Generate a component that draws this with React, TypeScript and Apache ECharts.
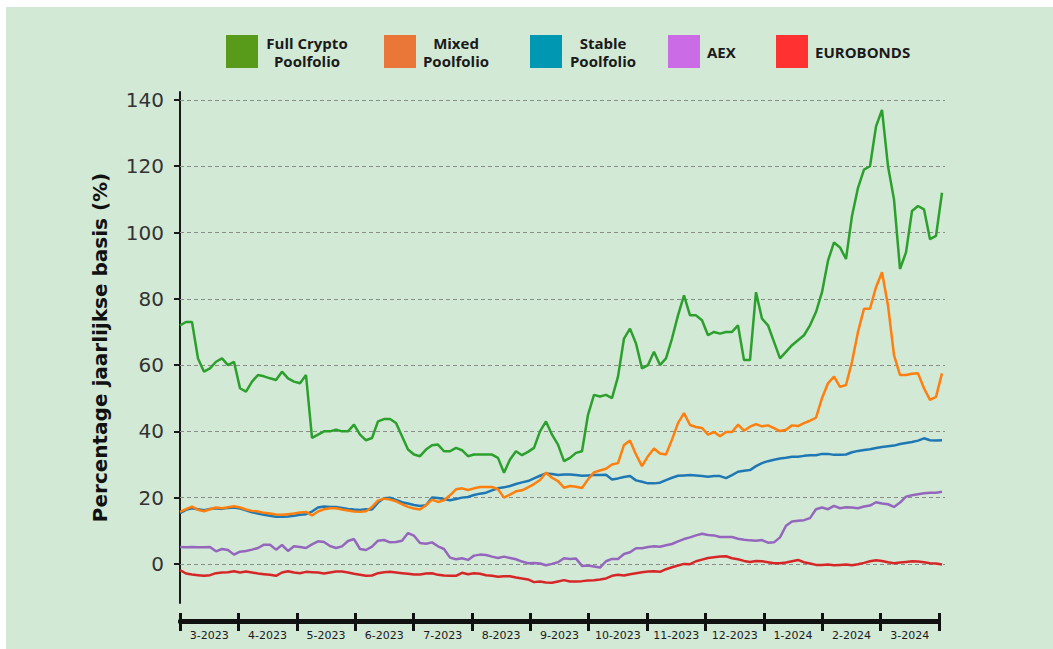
import React, { useEffect, useRef } from 'react';
import * as echarts from 'echarts';

const months = ['3-2023', '4-2023', '5-2023', '6-2023', '7-2023', '8-2023', '9-2023', '10-2023', '11-2023', '12-2023', '1-2024', '2-2024', '3-2024'];
const yTicks = [0, 20, 40, 60, 80, 100, 120, 140];

const fullCrypto = [
  72, 73, 73, 62, 58, 59, 61, 62, 60, 61, 53, 52, 55, 57, 56.6, 56, 55.5, 58, 56, 55, 54.5, 57, 38, 39, 40, 40, 40.5, 40, 40, 42, 39, 37.3,
  38, 43, 43.7, 43.7, 42.5, 38.5, 34.5, 33, 32.5, 34.5, 35.8, 36, 34, 34, 35, 34.3, 32.5, 33, 33, 33, 33, 32, 27.5, 31.5, 34, 32.8, 33.8, 35, 40, 43, 39, 36,
  31, 32, 33.5, 34, 45, 51, 50.5, 51, 50, 56.5, 68, 71, 66.5, 59, 60, 64, 60, 62, 68, 75, 81, 75, 75, 73.5, 69, 70, 69.5, 70, 70, 72, 61.5, 61.5,
  82, 74, 72, 67, 62, 64, 66, 67.5, 69, 72, 76, 82, 91.5, 97, 95.5, 92, 105, 113.5, 119, 120, 132, 137, 120, 110, 89, 94, 106.5, 108, 107, 98, 99, 112,
];
const mixed = [
  15.7, 16.5, 17.3, 16.3, 15.9, 16.5, 17, 16.8, 17.1, 17.4, 17, 16.4, 16, 15.8, 15.4, 15.2, 14.9, 14.8, 15, 15.2, 15.5, 15.7, 14.6, 15.8, 16.5, 16.8, 16.8, 16.4, 16.1, 15.8, 15.7, 15.9,
  17.2, 19.1, 19.7, 19.4, 18.9, 18, 17.2, 16.7, 16.4, 17.7, 19.4, 18.7, 19.2, 20.7, 22.5, 22.8, 22.3, 22.8, 23.2, 23.2, 23.2, 22.5, 20, 20.9, 21.9, 22.2, 23.1, 24.1, 25.3, 27.5, 26, 25,
  23, 23.5, 23.3, 22.9, 25.5, 27.6, 28.2, 28.7, 30, 30.4, 35.9, 37.2, 33, 29.5, 32.5, 34.8, 33.3, 33, 37.5, 42.5, 45.5, 41.9, 41.3, 41, 39, 39.8, 38.5, 39.8, 39.8, 42, 40.2, 41.4,
  42.2, 41.5, 41.8, 41, 40.1, 40.5, 41.8, 41.6, 42.5, 43.2, 44.1, 50, 54.5, 56.5, 53.4, 54, 61, 70, 77, 77, 83.5, 88, 78, 63, 57, 57, 57.4, 57.5, 53, 49.5, 50.4, 57.5,
];
const stable = [
  15.3, 16.3, 16.8, 16.5, 16.2, 16.6, 16.8, 16.6, 16.9, 17, 16.7, 16.2, 15.6, 15.2, 14.8, 14.5, 14.2, 14.2, 14.3, 14.5, 14.8, 15, 15.8, 17, 17.3, 17.2, 17.2, 16.9, 16.6, 16.4, 16.3, 16.5,
  16.4, 18.5, 19.8, 20, 19.3, 18.6, 18.2, 17.8, 17.5, 17.7, 20, 19.9, 19.6, 19.2, 19.6, 20, 20.2, 20.8, 21.2, 21.5, 22.2, 22.8, 23.1, 23.5, 24.1, 24.6, 25, 25.8, 26.6, 27.3, 27.1, 26.8,
  27, 27, 26.8, 26.6, 26.7, 26.8, 26.8, 26.9, 25.5, 25.8, 26.2, 26.5, 25.2, 24.8, 24.3, 24.3, 24.5, 25.3, 26, 26.6, 26.7, 26.8, 26.7, 26.5, 26.3, 26.5, 26.5, 25.9, 26.8, 27.8, 28.1, 28.3,
  29.5, 30.4, 31, 31.4, 31.8, 32, 32.3, 32.3, 32.6, 32.8, 32.8, 33.2, 33.2, 32.9, 32.9, 33, 33.7, 34.1, 34.4, 34.6, 35, 35.3, 35.5, 35.7, 36.2, 36.5, 36.8, 37.2, 37.9, 37.3, 37.2, 37.3,
];
const aex = [
  5.1, 5, 5.1, 5, 5, 5.1, 3.8, 4.5, 4.2, 2.8, 3.7, 3.9, 4.3, 4.8, 5.8, 5.8, 4.3, 5.7, 3.9, 5.3, 5.1, 4.8, 5.9, 6.8, 6.6, 5.4, 4.8, 5.3, 6.9, 7.5, 4.5, 4.2,
  5.2, 7, 7.2, 6.5, 6.6, 7, 9.3, 8.5, 6.3, 6.1, 6.5, 5.3, 4.5, 1.9, 1.4, 1.7, 1.2, 2.5, 2.8, 2.7, 2.2, 1.8, 2.2, 1.8, 1.4, 0.7, 0.2, 0.3, 0.1, -0.4, 0, 0.5,
  1.7, 1.5, 1.6, -0.6, -0.5, -0.8, -1.1, 0.8, 1.5, 1.5, 3, 3.5, 4.7, 4.7, 5.1, 5.3, 5.2, 5.6, 6, 6.8, 7.5, 8, 8.6, 9.1, 8.7, 8.6, 8.1, 8.1, 8.1, 7.6, 7.3, 7.1,
  7, 7.2, 6.4, 6.5, 8, 11.5, 12.8, 13, 13.2, 13.8, 16.5, 17, 16.5, 17.5, 16.8, 17.1, 17, 16.8, 17.3, 17.6, 18.6, 18.2, 18, 17.2, 18.5, 20.3, 20.7, 21, 21.3, 21.5, 21.5, 21.8,
];
const eurobonds = [
  -1.9, -2.9, -3.2, -3.4, -3.6, -3.4, -2.8, -2.6, -2.5, -2.2, -2.6, -2.3, -2.6, -2.9, -3.1, -3.3, -3.6, -2.6, -2.2, -2.6, -2.8, -2.4, -2.5, -2.6, -2.9, -2.6, -2.3, -2.3, -2.6, -3, -3.3, -3.6,
  -3.5, -2.8, -2.5, -2.4, -2.6, -2.8, -3, -3.2, -3.2, -2.9, -2.8, -3.3, -3.5, -3.6, -3.6, -2.7, -3.1, -2.8, -3, -3.4, -3.6, -3.9, -3.7, -3.7, -4.1, -4.4, -4.7, -5.5, -5.3, -5.6, -5.7, -5.3,
  -4.9, -5.3, -5.3, -5.2, -5.0, -4.9, -4.7, -4.4, -3.6, -3.3, -3.5, -3.1, -2.8, -2.5, -2.3, -2.2, -2.4, -1.6, -1, -0.5, 0, -0.1, 0.8, 1.3, 1.8, 2, 2.2, 2.3, 1.7, 1.4, 0.9, 0.6,
  0.9, 0.8, 0.5, 0.2, 0.2, 0.4, 0.8, 1.2, 0.5, 0.1, -0.3, -0.3, -0.2, -0.4, -0.3, -0.2, -0.4, -0.1, 0.3, 0.8, 1.1, 0.9, 0.5, 0.2, 0.4, 0.6, 0.8, 0.7, 0.5, 0.2, 0.1, -0.2,
];

const seriesDefs = [
  { name: 'Full Crypto Poolfolio', data: fullCrypto, color: '#2ca02c' },
  { name: 'Stable Poolfolio', data: stable, color: '#1f77b4' },
  { name: 'Mixed Poolfolio', data: mixed, color: '#ff7f0e' },
  { name: 'AEX', data: aex, color: '#9467bd' },
  { name: 'EUROBONDS', data: eurobonds, color: '#d62728' },
];

const legendItems = [
  { label: 'Full Crypto\nPoolfolio', color: '#589b1b', x: 220, tx: 301, align: 'center' },
  { label: 'Mixed\nPoolfolio', color: '#ea7637', x: 378, tx: 450, align: 'center' },
  { label: 'Stable\nPoolfolio', color: '#0097b2', x: 524, tx: 597, align: 'center' },
  { label: 'AEX', color: '#cb6ce6', x: 662, tx: 701, align: 'left' },
  { label: 'EUROBONDS', color: '#ff3131', x: 770, tx: 809, align: 'left' },
];

export default function App() {
  const ref = useRef<HTMLDivElement>(null);
  useEffect(() => {
    document.body.style.margin = '0';
    const chart = echarts.init(ref.current as HTMLDivElement, null, { renderer: 'svg' });
    const n = fullCrypto.length;
    const graphic: any[] = [];
    legendItems.forEach((it) => {
      graphic.push({ type: 'rect', shape: { x: it.x, y: 28, width: 32, height: 33 }, style: { fill: it.color } });
      graphic.push({
        type: 'text', x: it.tx, y: 45,
        style: { text: it.label, fontFamily: '"Open Sans"', fontWeight: 'bold', fontSize: 15, lineHeight: 18, fill: '#1a1a1a', align: it.align, verticalAlign: 'middle' },
      });
    });
    const option: any = {
      animation: false,
      backgroundColor: '#d2e9d6',
      graphic,
      grid: [
        { left: 174, right: 108, top: 85, bottom: 46, containLabel: false },
        { left: 174, width: 759, top: 614, height: 1, containLabel: false },
      ],
      xAxis: [
        { type: 'value', gridIndex: 0, min: 0, max: n - 0.5, show: false },
        {
          type: 'category', gridIndex: 1, position: 'bottom', data: months, boundaryGap: true,
          axisLine: { show: true, lineStyle: { color: '#111', width: 4 } },
          axisTick: { show: true, interval: 0, length: 9, lineStyle: { color: '#111', width: 3 } },
          axisLabel: { show: true, interval: 0, margin: 8, color: '#1a1a1a', fontSize: 11, fontFamily: '"DejaVu Sans"' },
        },
        {
          type: 'category', gridIndex: 1, position: 'top', data: months, boundaryGap: true,
          axisLine: { show: true, lineStyle: { color: '#111', width: 4 } },
          axisTick: { show: true, interval: 0, length: 8, lineStyle: { color: '#111', width: 3 } },
          axisLabel: { show: false },
        },
      ],
      yAxis: [
        {
          type: 'value', gridIndex: 0, min: -11.8, max: 142.4,
          name: 'Percentage jaarlijkse basis (%)', nameLocation: 'middle', nameGap: 70,
          nameTextStyle: { fontFamily: '"DejaVu Sans"', fontWeight: 'bold', fontSize: 20, color: '#111' },
          axisLine: { show: true, lineStyle: { color: '#1a1a1a', width: 2 } },
          axisTick: { show: true, customValues: yTicks, length: 6, lineStyle: { color: '#1a1a1a', width: 2 } },
          axisLabel: { customValues: yTicks, margin: 16, fontSize: 20, fontFamily: '"DejaVu Sans"', color: '#333' },
          splitLine: { show: false },
        },
        { type: 'value', gridIndex: 1, show: false, min: 0, max: 1 },
      ],
      series: seriesDefs.map((s, k) => ({
        name: s.name,
        type: 'line',
        xAxisIndex: 0,
        yAxisIndex: 0,
        data: s.data.map((v, i) => [i, v]),
        showSymbol: false,
        symbol: 'none',
        lineStyle: { color: s.color, width: 2.5 },
        itemStyle: { color: s.color },
        z: 2,
        markLine: k === 0 ? {
          silent: true, z: 1, symbol: ['none', 'none'], label: { show: false },
          lineStyle: { type: [4, 3], color: '#8c8c8c', width: 1 },
          data: yTicks.map((v) => ({ yAxis: v })),
        } : undefined,
      })),
    };
    chart.setOption(option);
    return () => chart.dispose();
  }, []);
  return (
    <div style={{ width: 1053, height: 649, background: '#fff', position: 'relative' }}>
      <div ref={ref} style={{ position: 'absolute', left: 6, top: 7, width: 1047, height: 642 }} />
    </div>
  );
}
